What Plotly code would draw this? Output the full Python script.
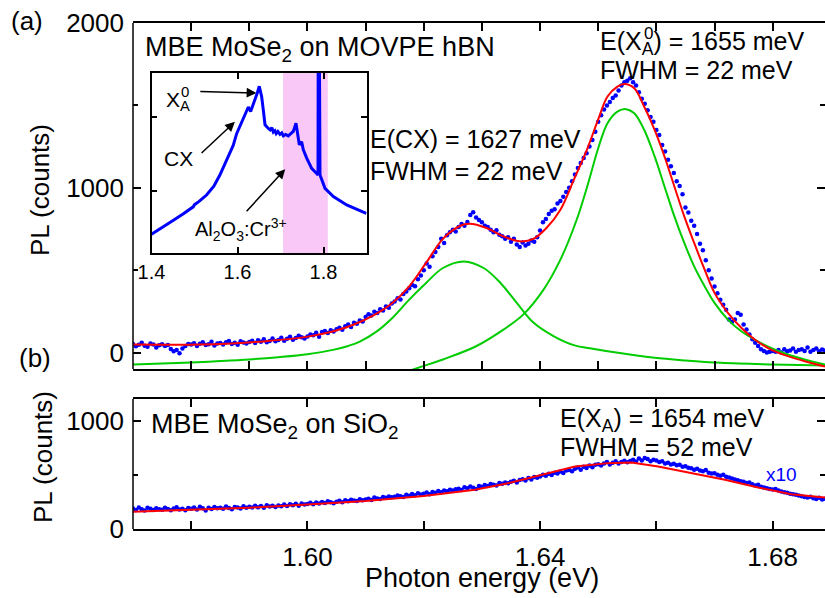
import plotly.graph_objects as go

W, H = 825, 598
FONT = "Liberation Sans, Arial, sans-serif"

# ---------------- data ----------------
# energy grid of the measured points (eV), 0.5 meV sampling
E_START, E_STEP, N_PTS = 1.570, 0.0005, 239

# (a) MBE MoSe2 on MOVPE hBN, measured PL (counts)
PL_A = [
    52, 38, 47, 60, 41, 35, 55, 48, 30, 44,
    50, 39, 46, 22, 8, 15, -5, 25, 40, 52,
    48, 57, 40, 53, 62, 45, 50, 66, 42, 55,
    58, 49, 63, 70, 52, 60, 47, 68, 61, 55,
    64, 72, 58, 75, 66, 80, 62, 70, 85, 68,
    76, 90, 72, 84, 95, 78, 88, 102, 92, 85,
    98, 110, 105, 120, 96, 125, 130, 118, 135, 128,
    142, 150, 138, 160, 170, 155, 180, 175, 195, 188,
    215, 232, 225, 248, 240, 262, 255, 280, 272, 298,
    310, 330, 322, 355, 370, 390, 410, 402, 445, 468,
    500, 540, 520, 585, 610, 640, 690, 665, 712, 730,
    745, 735, 762, 780, 770, 792, 835, 852, 820, 805,
    790, 770, 762, 745, 730, 742, 715, 705, 690, 700,
    672, 690, 655, 640, 668, 650, 660, 680, 672, 700,
    740, 790, 810, 840, 860, 870, 905, 920, 945, 975,
    1000, 1040, 1080, 1120, 1150, 1180, 1210, 1250, 1290, 1340,
    1400, 1440, 1475, 1500, 1520, 1545, 1560, 1590, 1620, 1640,
    1650, 1665, 1640, 1620, 1580, 1540, 1510, 1470, 1430, 1400,
    1350, 1320, 1260, 1220, 1170, 1130, 1090, 1040, 1010, 960,
    880, 850, 800, 770, 720, 660, 620, 560, 500, 450,
    400, 360, 320, 290, 260, 200, 185, 200, 240, 230,
    170, 140, 110, 80, 60, 40, 20, 10, 0, 5,
    10, 5, 15, 0, 20, 8, 12, 25, 5, 15,
    20, 10, 30, 5, 15, 25, 8, 18, 12,
]

# (a) total fit (red)
FIT_A_E = [1.5700, 1.5750, 1.5815, 1.5870, 1.5929, 1.5998, 1.6045, 1.6080, 1.6116, 1.6146,
           1.6175, 1.6204, 1.6233, 1.6262, 1.6279, 1.6308, 1.6337, 1.6365, 1.6388, 1.6411,
           1.6435, 1.6458, 1.6481, 1.6500, 1.6516, 1.6533, 1.6545, 1.6562, 1.6579, 1.6597,
           1.6614, 1.6631, 1.6648, 1.6665, 1.6683, 1.6700, 1.6723, 1.6746, 1.6769, 1.6797,
           1.6826, 1.6855, 1.6890]
FIT_A_V = [48, 47, 48, 55, 69, 95, 129, 170, 230, 301,
           402, 544, 690, 768, 782, 756, 705, 675, 689, 756,
           867, 1048, 1235, 1415, 1554, 1614, 1630, 1604, 1493, 1352,
           1190, 1008, 826, 665, 503, 362, 241, 150, 79, 18,
           -22, -53, -85]

# (a) CX component (green)
CX_E = [1.570, 1.575, 1.580, 1.585, 1.590, 1.595, 1.600, 1.6044, 1.607, 1.609,
        1.6118, 1.6146, 1.6175, 1.6204, 1.6233, 1.6269, 1.6303, 1.6332, 1.636, 1.6389,
        1.6423, 1.6458, 1.6493, 1.654, 1.6597, 1.665, 1.6711, 1.680, 1.689]
CX_V = [-73, -67, -60, -52, -42, -28, -10, 16, 40, 66,
        125, 210, 321, 422, 513, 553, 513, 422, 301, 180,
        100, 45, 22, -5, -32, -48, -62, -72, -79]

# (a) X_A^0 component (green)
XA_E = [1.6160, 1.6182, 1.6233, 1.6290, 1.6337, 1.6371, 1.6406, 1.6435, 1.6463, 1.6482,
        1.6500, 1.6516, 1.6533, 1.6548, 1.6562, 1.6579, 1.6597, 1.6614, 1.6631, 1.6648,
        1.6665, 1.6683, 1.6700, 1.6723, 1.6746, 1.6769, 1.6797, 1.6826, 1.6855, 1.6890]
XA_V = [-135, -103, -42, 38, 139, 230, 382, 564, 806, 1018,
        1240, 1392, 1462, 1477, 1452, 1352, 1190, 1008, 826, 665,
        523, 402, 301, 200, 129, 79, 28, -12, -42, -73]

# (b) MBE MoSe2 on SiO2, measured PL (counts, x10)
PL_B = [
    190, 175, 198, 182, 170, 195, 188, 176, 192, 183,
    178, 196, 185, 172, 190, 200, 181, 187, 174, 193,
    188, 198, 180, 205, 192, 170, 196, 185, 202, 191,
    197, 186, 208, 194, 183, 204, 199, 190, 210, 196,
    205, 198, 215, 200, 212, 195, 220, 207, 214, 202,
    218, 210, 225, 213, 228, 220, 232, 215, 236, 226,
    230, 242, 228, 245, 236, 250, 240, 255, 246, 238,
    252, 260, 248, 265, 256, 270, 262, 258, 275, 266,
    272, 280, 268, 290, 282, 276, 295, 288, 300, 292,
    298, 310, 302, 296, 315, 308, 322, 312, 330, 318,
    325, 338, 320, 342, 335, 350, 340, 356, 348, 362,
    355, 368, 372, 360, 385, 376, 392, 380, 370, 398,
    390, 405, 398, 415, 408, 402, 425, 418, 430, 422,
    435, 445, 430, 452, 460, 448, 470, 458, 480, 472,
    485, 500, 492, 510, 498, 520, 512, 530, 518, 540,
    545, 532, 555, 568, 548, 575, 562, 585, 570, 592,
    598, 585, 605, 618, 596, 612, 625, 604, 618, 630,
    615, 628, 640, 622, 650, 632, 655, 645, 626, 640,
    632, 618, 625, 605, 612, 596, 602, 588, 592, 575,
    580, 566, 560, 548, 556, 540, 532, 545, 520, 512,
    515, 500, 492, 500, 482, 475, 465, 458, 450, 440,
    436, 425, 430, 412, 402, 408, 390, 384, 376, 370,
    365, 370, 355, 346, 340, 334, 326, 320, 316, 310,
    303, 296, 290, 298, 284, 276, 288, 272, 280,
]

# (b) fit (red)
FIT_B_E = [1.570, 1.580, 1.590, 1.600, 1.610, 1.620, 1.6288, 1.6345, 1.6403, 1.6460,
           1.6517, 1.6557, 1.6603, 1.6660, 1.6718, 1.6775, 1.6832, 1.6890]
FIT_B_V = [160, 176, 197, 225, 259, 305, 362, 423, 500, 577,
           608, 614, 577, 515, 454, 383, 321, 290]

# inset: wide-range spectrum (arb. units)
INSET_E = [1.400, 1.420, 1.451, 1.475, 1.497, 1.500, 1.510, 1.528, 1.545, 1.559,
           1.570, 1.583, 1.590, 1.598, 1.606, 1.6135, 1.620, 1.6252, 1.6306, 1.636,
           1.6407, 1.646, 1.6507, 1.6562, 1.660, 1.664, 1.6717, 1.676, 1.680, 1.6833,
           1.687, 1.690, 1.694, 1.6988, 1.703, 1.7066, 1.712, 1.7181, 1.724, 1.7298,
           1.736, 1.740, 1.7438, 1.7492, 1.7531, 1.7609, 1.7725, 1.7841, 1.7872, 1.7880,
           1.7895, 1.7919, 1.8035, 1.8229, 1.8539, 1.8926, 1.900]
INSET_V = [0.42, 0.49, 0.61, 0.70, 0.79, 0.82, 0.86, 0.95, 1.07, 1.22,
           1.36, 1.51, 1.62, 1.78, 1.88, 1.99, 2.07, 2.14, 2.08, 2.16,
           2.23, 2.33, 2.42, 2.28, 2.10, 1.90, 1.85, 1.83, 1.86, 1.80,
           1.82, 1.78, 1.81, 1.77, 1.79, 1.75, 1.77, 1.75, 1.78, 1.81,
           1.92, 1.74, 1.63, 1.67, 1.56, 1.45, 1.31, 1.24, 1.22, 4.0,
           4.0, 1.22, 1.04, 0.93, 0.815, 0.72, 0.70]
RUBY_BAND = [1.706, 1.810]

X_TICKS_B = [1.58, 1.60, 1.62, 1.64, 1.66, 1.68]
X_TICKTEXT_B = ["", "1.60", "", "1.64", "", "1.68"]
X_TICKS_A = [1.57, 1.58, 1.59, 1.60, 1.61, 1.62, 1.63, 1.64, 1.65, 1.66, 1.67, 1.68]
INSET_XTICKS = [1.4, 1.6, 1.8]

E_DOTS = [round(E_START + E_STEP * i, 4) for i in range(N_PTS)]

# ---------------- layout helpers ----------------
def px(x):
    return x / W

def py(y):
    return 1 - y / H

BLUE = "#0000ff"
RED = "#ff0000"
GREEN = "#00cc00"

fig = go.Figure()

# panel (a)
fig.add_trace(go.Scatter(x=E_DOTS, y=PL_A, mode="markers",
                         marker=dict(color=BLUE, size=4.5), xaxis="x", yaxis="y"))
fig.add_trace(go.Scatter(x=CX_E, y=CX_V, mode="lines", line=dict(color=GREEN, width=2, shape="spline"),
                         xaxis="x", yaxis="y"))
fig.add_trace(go.Scatter(x=XA_E, y=XA_V, mode="lines", line=dict(color=GREEN, width=2, shape="spline"),
                         xaxis="x", yaxis="y"))
fig.add_trace(go.Scatter(x=FIT_A_E, y=FIT_A_V, mode="lines", line=dict(color=RED, width=2, shape="spline"),
                         xaxis="x", yaxis="y"))
# panel (b)
fig.add_trace(go.Scatter(x=E_DOTS, y=PL_B, mode="markers",
                         marker=dict(color=BLUE, size=4.5), xaxis="x2", yaxis="y2"))
fig.add_trace(go.Scatter(x=FIT_B_E, y=FIT_B_V, mode="lines", line=dict(color=RED, width=2),
                         xaxis="x2", yaxis="y2"))
# inset
fig.add_trace(go.Scatter(x=INSET_E, y=INSET_V, mode="lines", line=dict(color=BLUE, width=3),
                         xaxis="x3", yaxis="y3"))

X0, X1 = 133, 825
A_TOP, A_BOT = 23, 369
B_TOP, B_BOT = 399, 529
I_L, I_R, I_T, I_B = 151.5, 366.5, 73, 253

tickfont = dict(family=FONT, size=26, color="black")
common_x = dict(ticks="inside", ticklen=8, tickwidth=1.5, tickcolor="black",
                showline=True, linecolor="black", linewidth=1.5, mirror="ticks",
                showgrid=False, zeroline=False, tickfont=tickfont, automargin=False)
common_y = dict(ticks="inside", ticklen=8, tickwidth=1.5, tickcolor="black",
                showline=False, mirror="ticks", showgrid=False, zeroline=False,
                tickfont=tickfont, ticklabelstandoff=8, automargin=False,
                minor=dict(dtick=500, ticks="inside", ticklen=5, tickwidth=1.5, tickcolor="black"))

fig.update_layout(
    width=W, height=H, margin=dict(l=0, r=0, t=0, b=0, autoexpand=False),
    paper_bgcolor="white", plot_bgcolor="rgba(0,0,0,0)", showlegend=False,
    font=dict(family=FONT, color="black"),
    xaxis=dict(domain=[px(X0), 1], range=[1.57, 1.689], anchor="y",
               tickvals=X_TICKS_A, showticklabels=False, **common_x),
    yaxis=dict(domain=[py(A_BOT), py(A_TOP)], range=[-100, 2000], anchor="x",
               tickvals=[0, 1000, 2000], **common_y),
    xaxis2=dict(domain=[px(X0), 1], range=[1.57, 1.689], anchor="y2",
                tickvals=X_TICKS_B, ticktext=X_TICKTEXT_B, ticklabelstandoff=4, **common_x),
    yaxis2=dict(domain=[py(B_BOT), py(B_TOP)], range=[0, 1200], anchor="x2",
                tickvals=[0, 1000], **common_y),
    xaxis3=dict(domain=[px(I_L), px(I_R)], range=[1.4, 1.9], anchor="y3",
                tickvals=INSET_XTICKS, ticktext=["1.4", "1.6", "1.8"],
                ticks="inside", ticklen=6, tickwidth=1.5, tickcolor="black",
                showline=True, linecolor="black", linewidth=1.5, mirror="ticks",
                showgrid=False, zeroline=False, automargin=False,
                tickfont=dict(family=FONT, size=20, color="black")),
    yaxis3=dict(domain=[py(I_B), py(I_T)], range=[0.166, 2.6], anchor="x3",
                tickvals=[1, 2], showticklabels=False, automargin=False,
                ticks="inside", ticklen=6, tickwidth=1.5, tickcolor="black",
                showline=True, linecolor="black", linewidth=1.5, mirror="ticks",
                showgrid=False, zeroline=False),
)

# left spines of the main panels (right edge is cut off in the original)
for top, bot in [(A_TOP, A_BOT), (B_TOP, B_BOT)]:
    fig.add_shape(type="line", xref="paper", yref="paper",
                  x0=px(X0), x1=px(X0), y0=py(bot), y1=py(top),
                  line=dict(color="black", width=1.5))

# ruby band in the inset
fig.add_shape(type="rect", xref="x3", yref="y3", x0=RUBY_BAND[0], x1=RUBY_BAND[1],
              y0=0.166, y1=2.6, fillcolor="#f9c8f6", line=dict(width=0), layer="below")

def txt(x, y, s, size=26, color="black", xanchor="left", angle=0):
    fig.add_annotation(x=px(x), y=py(y), xref="paper", yref="paper", text=s,
                       showarrow=False, xanchor=xanchor, yanchor="middle", textangle=angle,
                       font=dict(family=FONT, size=size, color=color))

txt(27, 21, "(a)", xanchor="center")
txt(35, 358, "(b)", xanchor="center")
txt(40, 190, "PL (counts)", xanchor="center", angle=-90)
txt(43, 457, "PL (counts)", xanchor="center", angle=-90)
txt(482, 578, "Photon energy (eV)", size=27, xanchor="center")

txt(143, 49, "MBE MoSe<sub>2</sub> on MOVPE hBN", size=27)
txt(598, 43, "E(X<sub>A</sub>) = 1655 meV", size=25)
txt(648, 34, "0", size=17, xanchor="center")
txt(598, 70, "FWHM = 22 meV", size=25)
txt(368, 139, "E(CX) = 1627 meV", size=25)
txt(368, 171, "FWHM = 22 meV", size=25)

txt(149, 426, "MBE MoSe<sub>2</sub> on SiO<sub>2</sub>", size=27)
txt(558, 420, "E(X<sub>A</sub>) = 1654 meV", size=25)
txt(558, 447, "FWHM = 52 meV", size=25)
txt(764, 474, "x10", size=19, color=BLUE)

# inset labels
txt(164, 101, "X<sub>A</sub>", size=21)
txt(185, 91, "0", size=15, xanchor="center")
txt(178, 158, "CX", size=21, xanchor="center")
txt(193, 229, "Al<sub>2</sub>O<sub>3</sub>:Cr<sup>3+</sup>", size=20)

def arrow(x_head, y_head, x_tail, y_tail):
    fig.add_annotation(x=x_head, y=y_head, ax=x_tail, ay=y_tail, xref="x3", yref="y3",
                       axref="x3", ayref="y3", text="", showarrow=True,
                       arrowhead=2, arrowsize=1.3, arrowwidth=1.5, arrowcolor="black")

arrow(1.644, 2.33, 1.510, 2.35)
arrow(1.594, 1.94, 1.513, 1.50)
arrow(1.711, 1.30, 1.618, 0.71)

fig.write_html("out.html")
